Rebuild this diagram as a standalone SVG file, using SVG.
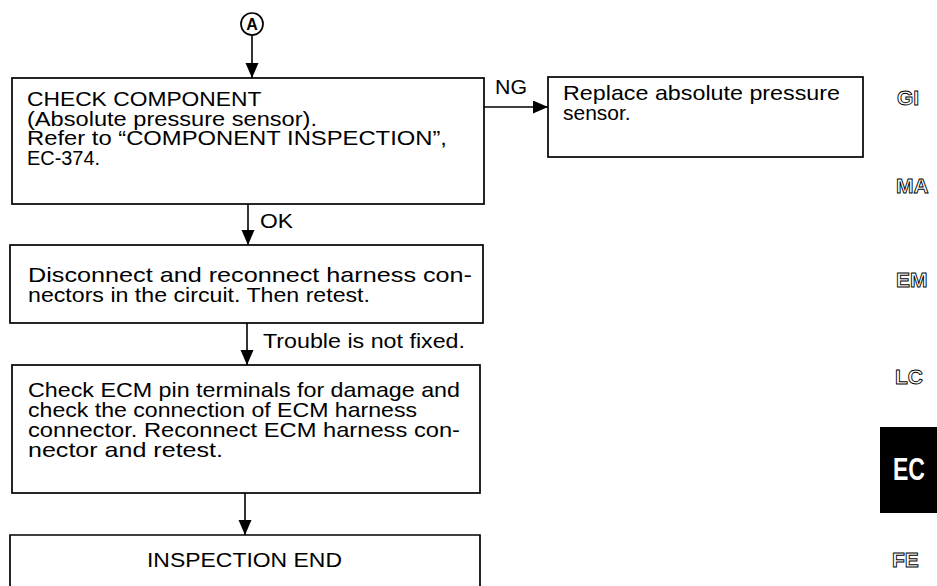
<svg xmlns="http://www.w3.org/2000/svg" width="937" height="586" viewBox="0 0 937 586">
  <defs>
    <marker id="ah" markerUnits="userSpaceOnUse" markerWidth="16" markerHeight="14" refX="15" refY="6.5" orient="auto">
      <path d="M0,0 L15,6.5 L0,13 Z" fill="#000"/>
    </marker>
    <style>
      .box { fill: #fff; stroke: #000; stroke-width: 1.7; }
      .t { font-family: "Liberation Sans", Arial, sans-serif; font-size: 21px; fill: #000; }
      .side { font-family: "Liberation Sans", Arial, sans-serif; font-size: 21px; font-weight: bold; fill: #fff; stroke: #000; stroke-width: 0.9; }
      .conn { fill: none; stroke: #000; stroke-width: 1.6; }
    </style>
  </defs>
  <rect width="937" height="586" fill="#fff"/>

  <g id="start-A">
    <circle cx="252" cy="24" r="11" fill="#fff" stroke="#000" stroke-width="1.7"/>
    <text x="252" y="30" text-anchor="middle" style="font-family:'Liberation Sans',Arial,sans-serif;font-size:16px;font-weight:bold">A</text>
  </g>

  <g id="check-component">
    <rect class="box" x="12" y="78" width="472" height="126"/>
    <text class="t">
      <tspan x="27" y="106" textLength="234" lengthAdjust="spacingAndGlyphs">CHECK COMPONENT</tspan>
      <tspan x="27" y="125.5" textLength="290" lengthAdjust="spacingAndGlyphs">(Absolute pressure sensor).</tspan>
      <tspan x="27" y="145" textLength="420" lengthAdjust="spacingAndGlyphs">Refer to “COMPONENT INSPECTION”,</tspan>
      <tspan x="27" y="164.5" textLength="73" lengthAdjust="spacingAndGlyphs">EC-374.</tspan>
    </text>
  </g>

  <g id="replace-sensor">
    <rect class="box" x="548" y="77" width="315" height="80"/>
    <text class="t">
      <tspan x="563" y="100" textLength="277" lengthAdjust="spacingAndGlyphs">Replace absolute pressure</tspan>
      <tspan x="563" y="120">sensor.</tspan>
    </text>
  </g>

  <g id="reconnect-harness">
    <rect class="box" x="10" y="245" width="473" height="78"/>
    <text class="t">
      <tspan x="28" y="282" textLength="444" lengthAdjust="spacingAndGlyphs">Disconnect and reconnect harness con-</tspan>
      <tspan x="28" y="302" textLength="342" lengthAdjust="spacingAndGlyphs">nectors in the circuit. Then retest.</tspan>
    </text>
  </g>

  <g id="check-ecm">
    <rect class="box" x="12" y="365" width="468" height="128"/>
    <text class="t">
      <tspan x="28" y="397" textLength="432" lengthAdjust="spacingAndGlyphs">Check ECM pin terminals for damage and</tspan>
      <tspan x="28" y="417" textLength="389" lengthAdjust="spacingAndGlyphs">check the connection of ECM harness</tspan>
      <tspan x="28" y="437" textLength="432" lengthAdjust="spacingAndGlyphs">connector. Reconnect ECM harness con-</tspan>
      <tspan x="28" y="457" textLength="195" lengthAdjust="spacingAndGlyphs">nector and retest.</tspan>
    </text>
  </g>

  <g id="inspection-end">
    <path class="box" d="M10,587 L10,535 L480,535 L480,587"/>
    <text class="t" x="147" y="567" textLength="195" lengthAdjust="spacingAndGlyphs">INSPECTION END</text>
  </g>

  <g id="connectors">
    <line class="conn" x1="252" y1="35" x2="252" y2="78" marker-end="url(#ah)"/>
    <line class="conn" x1="484" y1="107" x2="548" y2="107" marker-end="url(#ah)"/>
    <text class="t" x="495" y="94" textLength="32" lengthAdjust="spacingAndGlyphs">NG</text>
    <line class="conn" x1="248" y1="204" x2="248" y2="245" marker-end="url(#ah)"/>
    <text class="t" x="260" y="228" textLength="33" lengthAdjust="spacingAndGlyphs">OK</text>
    <line class="conn" x1="247" y1="323" x2="247" y2="365" marker-end="url(#ah)"/>
    <text class="t" x="263" y="348" textLength="202" lengthAdjust="spacingAndGlyphs">Trouble is not fixed.</text>
    <line class="conn" x1="245" y1="493" x2="245" y2="535" marker-end="url(#ah)"/>
  </g>

  <g id="section-tabs">
    <text class="side" x="897" y="105">GI</text>
    <text class="side" x="896" y="193">MA</text>
    <text class="side" x="896" y="287">EM</text>
    <text class="side" x="895" y="384">LC</text>
    <rect x="880" y="427" width="57" height="86" fill="#000"/>
    <text x="893" y="480" textLength="32" lengthAdjust="spacingAndGlyphs" style="font-family:'Liberation Sans',Arial,sans-serif;font-size:31px;font-weight:bold;fill:#fff">EC</text>
    <text class="side" x="892" y="567">FE</text>
  </g>
</svg>
